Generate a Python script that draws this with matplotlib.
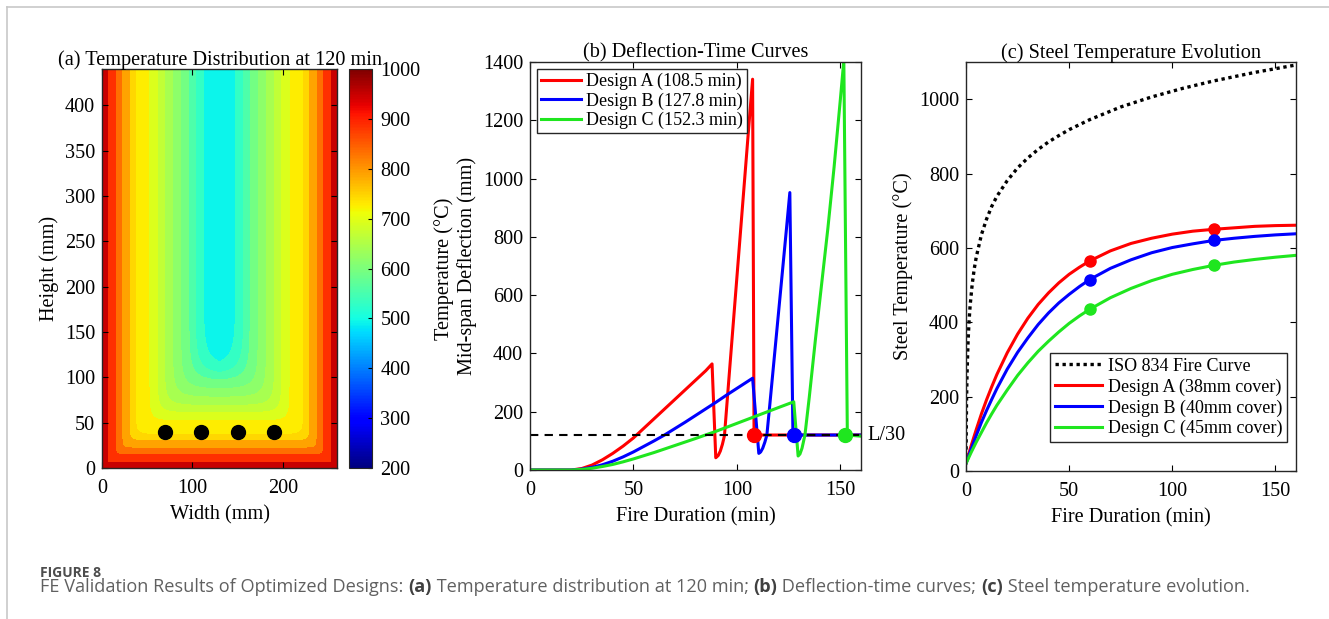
import numpy as np
import matplotlib.pyplot as plt
from matplotlib import cm, colors
from matplotlib.lines import Line2D

SERIF = ['Liberation Serif', 'DejaVu Serif']
plt.rcParams['font.family'] = 'serif'
plt.rcParams['font.serif'] = SERIF
plt.rcParams['font.size'] = 14.6
plt.rcParams['axes.titlesize'] = 14.6
plt.rcParams['axes.linewidth'] = 1.0
plt.rcParams['axes.edgecolor'] = '#262626'

# --- (a) section temperature at 120 min: bands read vs distance from heated faces
band_edges_mm = [7, 16, 23, 31, 38, 53, 62, 70, 79, 88, 97, 104, 113]
band_temp = [947, 885, 832, 788, 745, 728, 691, 666, 641, 616, 592, 554, 530, 492]
sec_width = 260
sec_height = 440
bar_x = [70, 110, 150, 190]
bar_y = [40, 40, 40, 40]

# --- (b) deflection-time curves
time_a = [0, 20, 25, 30, 35, 40, 45, 50, 55, 60, 65, 70, 75, 80, 85, 88, 89.8, 91, 92, 93, 94,
          96, 98, 100, 102, 104, 106, 107.6, 108.3, 160]
defl_a = [0, 0, 5, 17, 35, 57, 82, 110, 143, 176, 209, 242, 275, 308, 341, 364, 42, 50, 65, 88, 118,
          300, 480, 660, 840, 1020, 1200, 1341, 120, 120]
time_b = [0, 20, 25, 30, 35, 40, 45, 50, 55, 60, 65, 70, 75, 80, 85, 90, 95, 100, 105, 107.6,
          110.6, 111.5, 112.5, 113.5, 114.5, 116, 118, 120, 122, 124, 125.6, 127.1, 160]
defl_b = [0, 0, 3, 9, 18, 30, 45, 62, 81, 100, 120, 142, 164, 187, 210, 233, 257, 280, 303, 315,
          57, 62, 75, 95, 120, 230, 380, 530, 680, 830, 952, 120, 120]
time_c = [0, 20, 25, 30, 35, 40, 45, 50, 55, 60, 70, 80, 90, 100, 110, 120, 127.5, 129.6, 130.5,
          131.5, 132.9, 135, 138, 141, 144, 147, 150, 151.7, 153.4, 160]
defl_c = [0, 0, 2, 6, 12, 19, 28, 38, 49, 60, 84, 108, 133, 160, 187, 214, 234, 48, 55,
          75, 120, 250, 450, 640, 830, 1040, 1270, 1405, 120, 116]
fail_time = [108.5, 127.8, 152.3]
limit_defl = 120
defl_labels = ['Design A (108.5 min)', 'Design B (127.8 min)', 'Design C (152.3 min)']

# --- (c) steel temperature
iso_time = [0, 0.25, 0.5, 1, 1.5, 2, 3, 4, 5, 7.5, 10, 12.5, 15, 20, 25, 30, 35, 40, 45, 50, 60,
            75, 90, 105, 120, 140, 160]
iso_temp = [20, 185, 261, 349, 404, 445, 502, 544, 576, 636, 678, 712, 739, 781, 815, 842, 865,
            885, 902, 918, 945, 979, 1006, 1029, 1049, 1072, 1092]
steel_time = [0, 2.5, 5, 7.5, 10, 12.5, 15, 20, 25, 30, 35, 40, 45, 50, 55, 60, 70, 80, 90, 100,
              110, 120, 130, 140, 150, 160]
steel_a = [20, 68, 112, 154, 192, 227, 260, 318, 368, 411, 448, 479, 506, 529, 548, 565, 592, 612,
           626, 637, 645, 650, 654, 658, 660, 661]
steel_b = [20, 59, 96, 131, 163, 193, 222, 274, 319, 358, 394, 425, 452, 475, 496, 515, 545, 568,
           587, 601, 611, 620, 626, 631, 635, 638]
steel_c = [20, 50, 78, 104, 130, 154, 177, 218, 257, 291, 322, 349, 374, 397, 417, 435, 466, 491,
           512, 529, 542, 553, 562, 569, 575, 580]
mark_time = [60, 120]
mark_a = [565, 650]
mark_b = [515, 620]
mark_c = [435, 553]
steel_labels = ['Design A (38mm cover)', 'Design B (40mm cover)', 'Design C (45mm cover)']

RED = '#ff0000'
BLUE = '#0000ff'
GREEN = '#1fe61f'

W, H = 1329, 619
fig = plt.figure(figsize=(W / 100, H / 100), dpi=100)


def px_axes(left, top, right, bottom):
    return fig.add_axes([left / W, 1 - bottom / H, (right - left) / W, (bottom - top) / H])


def style(ax):
    ax.tick_params(direction='in', top=True, right=True, length=4, width=0.8, labelsize=14.6)
    ax.tick_params(axis='x', pad=8)
    ax.tick_params(axis='y', pad=5)
    for lab in ax.get_xticklabels() + ax.get_yticklabels():
        lab.set_fontfamily(SERIF)


# background axes in pixel units for the frame + caption
bg = fig.add_axes([0, 0, 1, 1], zorder=-5)
bg.set_xlim(0, W)
bg.set_ylim(H, 0)
bg.set_axis_off()
bg.add_line(Line2D([7, 7], [7, H], color='#c8c8c8', lw=1.2))
bg.add_line(Line2D([7, W], [7, 7], color='#c8c8c8', lw=1.2))

# ---------------- (a)
ax1 = px_axes(102, 69, 337, 468)
xs = np.linspace(0, sec_width, 521)
ys = np.linspace(0, sec_height, 881)
X, Y = np.meshgrid(xs, ys)
dx = np.maximum(np.minimum(X, sec_width - X), 1e-3)
dy = np.maximum(Y, 1e-3)
D = (dx ** -8 + dy ** -8) ** (-1 / 8)  # rounded-corner distance from heated faces
norm = colors.Normalize(200, 1000)
band_colors = [cm.jet(norm(t)) for t in band_temp]
ax1.contourf(X, Y, D, levels=[0] + band_edges_mm + [1000], colors=band_colors)
ax1.plot(bar_x, bar_y, 'o', color='black', ms=10)
ax1.set_xlim(0, sec_width)
ax1.set_ylim(0, sec_height)
ax1.set_xticks([0, 100, 200])
ax1.set_yticks(range(0, 401, 50))
ax1.set_xlabel('Width (mm)', labelpad=5)
ax1.set_ylabel('Height (mm)')
ax1.set_title('(a) Temperature Distribution at 120 min', pad=3)
style(ax1)

cax = px_axes(349, 69, 372, 468)
cb = fig.colorbar(cm.ScalarMappable(norm=norm, cmap='jet'), cax=cax)
cb.set_ticks(range(200, 1001, 100))
cb.ax.tick_params(direction='in', length=3, width=0.8, labelsize=14.6, pad=6)
for lab in cb.ax.get_yticklabels():
    lab.set_fontfamily(SERIF)
cb.set_label('Temperature (°C)', labelpad=10)
cb.outline.set_linewidth(0.8)

# ---------------- (b)
ax2 = px_axes(530, 62, 861, 470)
ax2.plot(time_a, defl_a, color=RED, lw=2.2, label=defl_labels[0])
ax2.plot(time_b, defl_b, color=BLUE, lw=2.2, label=defl_labels[1])
ax2.plot(time_c, defl_c, color=GREEN, lw=2.2, label=defl_labels[2])
ax2.axhline(limit_defl, color='black', lw=1.5, ls=(0, (4, 3)))
for ft, c in zip(fail_time, [RED, BLUE, GREEN]):
    ax2.plot(ft, limit_defl, 'o', color=c, ms=10, zorder=5)
ax2.text(163, limit_defl, 'L/30', va='center', ha='left', clip_on=False)
ax2.set_xlim(0, 160)
ax2.set_ylim(0, 1400)
ax2.set_xticks([0, 50, 100, 150])
ax2.set_yticks(range(0, 1401, 200))
ax2.set_xlabel('Fire Duration (min)', labelpad=5)
ax2.set_ylabel('Mid-span Deflection (mm)')
ax2.set_title('(b) Deflection-Time Curves', pad=3)
style(ax2)
leg = ax2.legend(loc='upper left', bbox_to_anchor=(7 / 331, 1 - 7 / 408), borderaxespad=0,
                 fancybox=False, framealpha=1, edgecolor='#262626', fontsize=13,
                 handlelength=2.2, handletextpad=0.3, borderpad=0.22, labelspacing=0.12)
leg.get_frame().set_linewidth(1.0)

# ---------------- (c)
ax3 = px_axes(966, 62, 1296, 471)
ax3.plot(iso_time, iso_temp, color='black', lw=2.4, ls=(0, (1, 1.1)), label='ISO 834 Fire Curve')
ax3.plot(steel_time, steel_a, color=RED, lw=2.2, label=steel_labels[0])
ax3.plot(steel_time, steel_b, color=BLUE, lw=2.2, label=steel_labels[1])
ax3.plot(steel_time, steel_c, color=GREEN, lw=2.2, label=steel_labels[2])
ax3.plot(mark_time, mark_a, 'o', color=RED, ms=8)
ax3.plot(mark_time, mark_b, 'o', color=BLUE, ms=8)
ax3.plot(mark_time, mark_c, 'o', color=GREEN, ms=8)
ax3.set_xlim(0, 160)
ax3.set_ylim(0, 1100)
ax3.set_xticks([0, 50, 100, 150])
ax3.set_yticks(range(0, 1001, 200))
ax3.set_xlabel('Fire Duration (min)', labelpad=5)
ax3.set_ylabel('Steel Temperature (°C)')
ax3.set_title('(c) Steel Temperature Evolution', pad=3)
style(ax3)
leg3 = ax3.legend(loc='lower right', bbox_to_anchor=(1 - 9 / 330, 29 / 409), borderaxespad=0,
                  fancybox=False, framealpha=1, edgecolor='#262626', fontsize=13,
                  handlelength=2.6, handletextpad=0.35, borderpad=0.25, labelspacing=0.2)
leg3.get_frame().set_linewidth(1.0)

# ---------------- caption
cap_font = ['Open Sans', 'DejaVu Sans']
bg.text(40, 573, 'FIGURE 8', fontsize=10, family=cap_font, weight='bold', color='#4d4d4d', va='center')
pieces = [('FE Validation Results of Optimized Designs: ', 'normal'), ('(a)', 'bold'),
          (' Temperature distribution at 120 min; ', 'normal'), ('(b)', 'bold'),
          (' Deflection-time curves; ', 'normal'), ('(c)', 'bold'),
          (' Steel temperature evolution.', 'normal')]
prev = bg.text(40, 587, pieces[0][0], fontsize=13.1, family=cap_font, color='#606060', va='center')
for txt, w in pieces[1:]:
    prev = bg.annotate(txt, xy=(1, 0), xycoords=prev, va='bottom', ha='left', fontsize=13.1,
                       family=cap_font, weight=w, color='#404040' if w == 'bold' else '#606060')

fig.savefig('out.png', dpi=100)
